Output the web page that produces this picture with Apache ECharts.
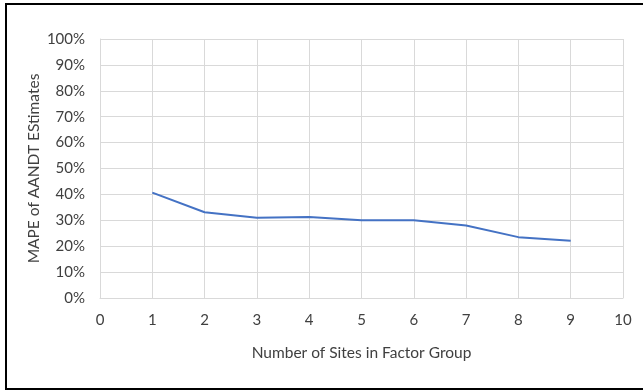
<!DOCTYPE html>
<html>
<head>
<meta charset="utf-8">
<script src="https://cdn.jsdelivr.net/npm/echarts@6/dist/echarts.min.js"></script>
<style>
html,body{margin:0;padding:0;background:#fff;}
#c{width:643px;height:390px;}
</style>
</head>
<body>
<div id="c"></div>
<script>
const xValues = [1, 2, 3, 4, 5, 6, 7, 8, 9];
const mapeValues = [0.407, 0.331, 0.310, 0.313, 0.300, 0.300, 0.280, 0.235, 0.221];
const xTitle = 'Number of Sites in Factor Group';
const yTitle = 'MAPE of AANDT EStimates';

const chart = echarts.init(document.getElementById('c'));
const font = 'Lato, Open Sans, sans-serif';
chart.setOption({
  backgroundColor: '#fff',
  animation: false,
  graphic: [{
    type: 'rect',
    shape: {x: 6, y: 4, width: 660, height: 385},
    style: {fill: 'none', stroke: '#000', lineWidth: 2},
    silent: true
  }],
  grid: {left: 100, right: 20, top: 39, bottom: 92, containLabel: false},
  xAxis: {
    type: 'value', min: 0, max: 10, interval: 1,
    name: xTitle, nameLocation: 'middle', nameGap: 47, nameMoveOverlap: false,
    nameTextStyle: {color: '#404040', fontSize: 15.5, fontFamily: font},
    axisLine: {show: true, lineStyle: {color: '#d9d9d9', width: 1}},
    axisTick: {show: false},
    axisLabel: {color: '#404040', fontSize: 15, fontFamily: font, margin: 15},
    splitLine: {show: true, lineStyle: {color: '#d9d9d9', width: 1}}
  },
  yAxis: {
    type: 'value', min: 0, max: 1, interval: 0.1,
    name: yTitle, nameLocation: 'middle', nameGap: 58, nameRotate: 90, nameMoveOverlap: false,
    nameTextStyle: {color: '#404040', fontSize: 15.5, fontFamily: font},
    axisLine: {show: true, lineStyle: {color: '#d9d9d9', width: 1}},
    axisTick: {show: false},
    axisLabel: {color: '#404040', fontSize: 15, fontFamily: font, margin: 15,
      formatter: v => Math.round(v * 100) + '%'},
    splitLine: {show: true, lineStyle: {color: '#d9d9d9', width: 1}}
  },
  series: [{
    type: 'line',
    data: xValues.map((x, i) => [x, mapeValues[i]]),
    showSymbol: false,
    lineStyle: {color: '#4472C4', width: 2},
    itemStyle: {color: '#4472C4'}
  }]
});
</script>
</body>
</html>
